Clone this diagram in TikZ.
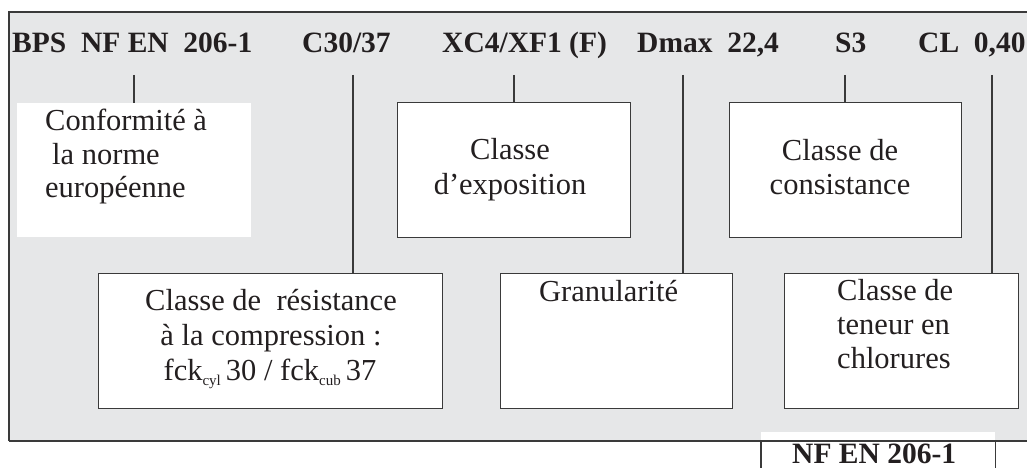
\documentclass[tikz,border=0pt]{standalone}
\usepackage{fontspec}
\setmainfont{Liberation Serif}
\definecolor{panel}{HTML}{E6E7E8}
\definecolor{ink}{HTML}{231F20}
\definecolor{rule}{HTML}{3A3A3A}
\begin{document}
\begin{tikzpicture}[x=1pt,y=-1pt,
  box/.style={draw=rule, line width=1.1pt, fill=white, inner sep=0pt, anchor=north west},
  plainbox/.style={fill=white, inner sep=0pt, anchor=north west},
  lead/.style={draw=rule, line width=1.1pt},
  code/.style={font=\fontsize{29.5}{34}\selectfont\bfseries, text=ink, anchor=base west, inner sep=0pt},
  txt/.style={font=\fontsize{30.5}{35}\selectfont, text=ink, inner sep=0pt, anchor=base},
  txtl/.style={txt, anchor=base west},
]
\useasboundingbox (0,0) rectangle (1027,468);
\clip (0,0) rectangle (1027,468);

% grey panel, open on the right
\path[fill=panel] (9,12) rectangle (1060,441);

% designation line
\node[code] (bps)  at (12,53)  {BPS\ \ NF EN\ \ 206-1};
\node[code] (cls)  at (302,53) {C30/37};
\node[code] (xc)   at (442,53) {XC4/XF1 (F)};
\node[code] (dmax) at (637,53) {Dmax\ \ 22,4};
\node[code] (s3)   at (835,53) {S3};
\node[code] (cl)   at (918,53) {CL\ \ 0,40};

% upper row of boxes
\node[plainbox, minimum width=234, minimum height=134] (norme) at (17,103) {};
\node[box, minimum width=233, minimum height=135] (expo) at (397,102) {};
\node[box, minimum width=232, minimum height=135] (consist) at (729,102) {};

% lower row of boxes
\node[box, minimum width=344, minimum height=135] (resist) at (98,273) {};
\node[box, minimum width=232, minimum height=135] (granu) at (500,273) {};
\node[box, minimum width=234, minimum height=135] (chlor) at (784,273) {};

% box texts
\node[txtl] (norme-a) at (45,131) {Conformité à};
\node[txtl] (norme-b) at (52,164) {la norme};
\node[txtl] (norme-c) at (45,197) {européenne};

\node[txt] (expo-a) at (510,159) {Classe};
\node[txt] (expo-b) at (510,194) {d’exposition};

\node[txt] (consist-a) at (840,160) {Classe de};
\node[txt] (consist-b) at (840,194) {consistance};

\node[txt] (resist-a) at (271,310) {Classe de\ \ résistance};
\node[txt] (resist-b) at (271,345) {à la compression :};
\node[txt] (resist-c) at (270,380) {fck\raisebox{-5pt}{\fontsize{15}{15}\selectfont cyl}\,30 / fck\raisebox{-5pt}{\fontsize{15}{15}\selectfont cub}\,37};

\node[txtl] (granu-a) at (539,301) {Granularité};

\node[txtl] (chlor-a) at (837,300) {Classe de};
\node[txtl] (chlor-b) at (837,334) {teneur en};
\node[txtl] (chlor-c) at (837,368) {chlorures};

% leader lines from the designation to each box
\coordinate (t-norme)   at (134,75);
\coordinate (t-resist)  at (353,75);
\coordinate (t-expo)    at (514,75);
\coordinate (t-granu)   at (683,75);
\coordinate (t-consist) at (845,75);
\coordinate (t-chlor)   at (992,75);
\draw[lead] (t-norme)   -- (t-norme   |- norme.north);
\draw[lead] (t-resist)  -- (t-resist  |- resist.north);
\draw[lead] (t-expo)    -- (t-expo    |- expo.north);
\draw[lead] (t-granu)   -- (t-granu   |- granu.north);
\draw[lead] (t-consist) -- (t-consist |- consist.north);
\draw[lead] (t-chlor)   -- (t-chlor   |- chlor.north);

% standard tab at the bottom
\node[plainbox, minimum width=234, minimum height=50] (tab) at (761,432) {};
\draw[draw=rule, line width=1.3pt] (9,441) -- (9,12) -- (1060,12);
\draw[draw=rule, line width=1.3pt] (9,441) -- (1060,441);
\draw[draw=rule, line width=1.1pt] (tab.west |- 0,441) -- (tab.south west);
\draw[draw=rule, line width=1.1pt] (tab.east |- 0,441) -- (tab.south east);
\node[code] (tab-t) at (792,463) {NF EN 206-1};
\end{tikzpicture}
\end{document}
